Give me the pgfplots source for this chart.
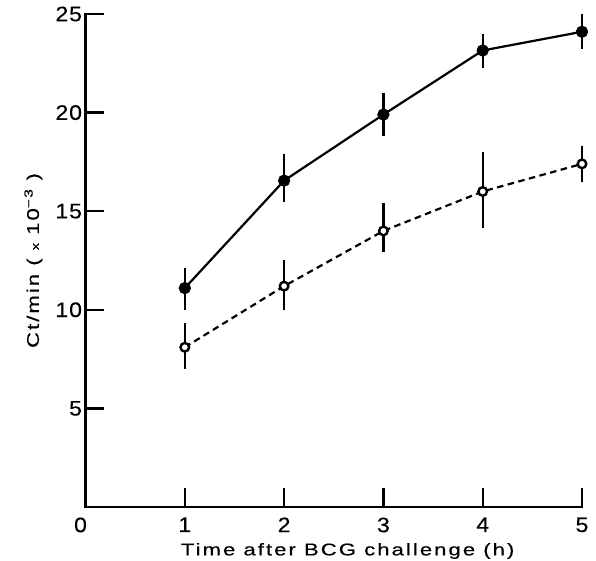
\documentclass[border=0pt]{standalone}
\usepackage{fontspec}
\setmainfont{Liberation Sans}
\newfontfamily\tickfont{Liberation Sans}[FakeStretch=1.1, LetterSpace=4.0, FakeBold=0.4]
\newfontfamily\labfont{Liberation Sans}[FakeStretch=1.3, LetterSpace=12.0, FakeBold=0.4]
\usepackage{pgfplots}
\pgfplotsset{compat=1.18}

\begin{document}
\begin{tikzpicture}
\begin{axis}[
    scale only axis,
    width=496.5bp, height=493bp,
    xmin=0, xmax=5,
    ymin=0, ymax=25,
    axis lines*=left,
    axis line style={line width=2.4bp, line cap=rect},
    tick align=inside,
    major tick length=19bp,
    tick style={line width=2.4bp, black},
    xtick={1,2,3,4,5},
    ytick={5,10,15,20,25},
    extra x ticks={0},
    extra x tick style={major tick length=0pt, xticklabel style={xshift=-5bp}},
    /pgf/number format/assume math mode=true,
    ticklabel style={font=\tickfont\fontsize{21bp}{24bp}\selectfont},
    xticklabel style={yshift=-7bp},
    xlabel={Time after BCG challenge (h)},
    ylabel={Ct/min ( {\fontsize{11bp}{12bp}\selectfont x} 10\textsuperscript{−3} )},
    label style={font=\labfont\fontsize{17bp}{20bp}\selectfont},
    xlabel style={at={(axis description cs:0.528,-0.0892)}, anchor=center},
    ylabel style={at={(axis description cs:-0.105,0.5)}, anchor=center},
    clip=false,
]

% filled circles, solid line
\addplot[
    black, line width=2.2bp,
    mark=*, mark size=5bp,
    mark options={solid, fill=black},
    error bars/.cd, y dir=both, y explicit,
    error mark=none,
    error bar style={solid, line width=2.4bp},
] coordinates {
    (1,11.1)  += (0,1.0)  -= (0,1.1)
    (2,16.55) += (0,1.35) -= (0,1.1)
    (3,19.9)  += (0,1.1)  -= (0,1.1)
    (4,23.15) += (0,0.85) -= (0,0.9)
    (5,24.1)  += (0,0.9)  -= (0,0.9)
};

% open circles, dashed line
\addplot[
    black, line width=2.2bp,
    dash pattern=on 6.5bp off 4.5bp,
    mark=*, mark size=4.3bp,
    mark options={solid, fill=white, line width=2.4bp},
    error bars/.cd, y dir=both, y explicit,
    error mark=none,
    error bar style={solid, line width=2.4bp},
] coordinates {
    (1,8.1)  += (0,1.25) -= (0,1.1)
    (2,11.2) += (0,1.35) -= (0,1.2)
    (3,14.0) += (0,1.4)  -= (0,1.05)
    (4,16.0) += (0,2.0)  -= (0,1.85)
    (5,17.4) += (0,0.9)  -= (0,0.9)
};

\end{axis}
\pgfresetboundingbox
\path[use as bounding box] (-85.5bp,-54bp) rectangle (510.5bp,507bp);
\end{tikzpicture}
\end{document}
